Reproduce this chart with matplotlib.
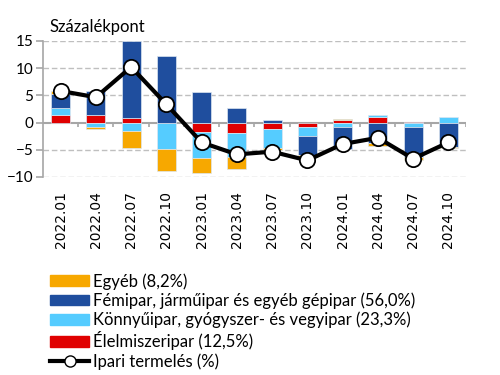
import numpy as np
import matplotlib
matplotlib.use('Agg')
import matplotlib.pyplot as plt
from matplotlib.patches import Patch
from matplotlib.lines import Line2D

plt.rcParams['font.family'] = ['Lato', 'DejaVu Sans']

# Quarterly data (percentage points)
quarters = ['2022.01', '2022.04', '2022.07', '2022.10', '2023.01', '2023.04',
            '2023.07', '2023.10', '2024.01', '2024.04', '2024.07', '2024.10']
food = [1.3, 1.35, 0.85, 0.0, -1.7, -2.0, -1.15, -0.9, 0.55, 1.05, 0.1, 0.0]
light = [1.3, -0.75, -1.6, -4.9, -4.9, -4.3, -3.55, -1.5, -0.9, 0.35, -0.8, 1.0]
metal = [2.6, 4.5, 14.1, 12.3, 5.55, 2.65, 0.4, -3.5, -4.0, -3.8, -5.6, -4.4]
other = [0.6, -0.45, -3.15, -4.0, -2.6, -2.3, -0.3, -0.4, 0.15, -0.5, -0.4, -0.2]
production = [5.8, 4.65, 10.2, 3.35, -3.65, -5.85, -5.35, -6.95, -3.95, -2.8, -6.65, -3.65]

labels = ['Élelmiszeripar (12,5%)',
          'Könnyűipar, gyógyszer- és vegyipar (23,3%)',
          'Fémipar, járműipar és egyéb gépipar (56,0%)',
          'Egyéb (8,2%)']
colors = ['#E00000', '#55CCFF', '#1F4E9E', '#F7A800']
series = [food, light, metal, other]

fig = plt.figure(figsize=(5, 3.75), dpi=100)
ax = fig.add_axes([0.086, 0.528, 0.846, 0.363])

x = np.arange(len(quarters))
pos_bottom = np.zeros(len(quarters))
neg_bottom = np.zeros(len(quarters))
for vals, col in zip(series, colors):
    v = np.array(vals)
    bottom = np.where(v >= 0, pos_bottom, neg_bottom)
    ax.bar(x, v, width=0.54, bottom=bottom, color=col, edgecolor='#DDE6F0',
           linewidth=0.5, zorder=2)
    pos_bottom += np.clip(v, 0, None)
    neg_bottom += np.clip(v, None, 0)

# zero line with category tick marks
ax.axhline(0, color='#A6A6A6', lw=1.5, zorder=1)
ax.vlines(x[:-1] + 0.5, -0.9, 0, color='#A6A6A6', lw=1.2, zorder=1)
ax.vlines(len(quarters) - 0.5, -0.9, 0, color='#A6A6A6', lw=1.2, zorder=1)

ax.plot(x, production, color='black', lw=3, marker='o', markersize=11,
        markerfacecolor='white', markeredgecolor='black', markeredgewidth=1.3,
        zorder=4)

ax.set_xlim(-0.5, len(quarters) - 0.5)
ax.set_ylim(-10, 15)
ax.set_yticks([-10, -5, 0, 5, 10, 15])
for yv in [-10, -5, 5, 10, 15]:
    ax.axhline(yv, color='#BFBFBF', lw=1, ls=(0, (4, 2)), zorder=0)

ax.set_xticks(x)
ax.set_xticklabels(quarters, rotation=90, fontsize=10, family='DejaVu Sans')
ax.tick_params(axis='x', length=0, pad=10)
ax.tick_params(axis='y', labelsize=11, color='#A6A6A6', length=5, width=1.2, pad=2)
for s in ['top', 'right', 'bottom']:
    ax.spines[s].set_visible(False)
ax.spines['left'].set_color('#A6A6A6')
ax.spines['left'].set_linewidth(1.2)

fig.text(0.1, 0.928, 'Százalékpont', fontsize=12, va='center', ha='left')

handles = [Patch(color=colors[3]), Patch(color=colors[2]), Patch(color=colors[1]),
           Patch(color=colors[0]),
           Line2D([], [], color='black', lw=3, marker='o', markersize=8,
                  markerfacecolor='white', markeredgecolor='black')]
leg_labels = [labels[3], labels[2], labels[1], labels[0], 'Ipari termelés (%)']
fig.legend(handles, leg_labels, loc='upper left', bbox_to_anchor=(0.1, 0.272),
           frameon=False, fontsize=12, handlelength=2.35, handleheight=0.6,
           handletextpad=0.25, labelspacing=0.17, borderaxespad=0, borderpad=0)

fig.savefig('out.png', dpi=100)
